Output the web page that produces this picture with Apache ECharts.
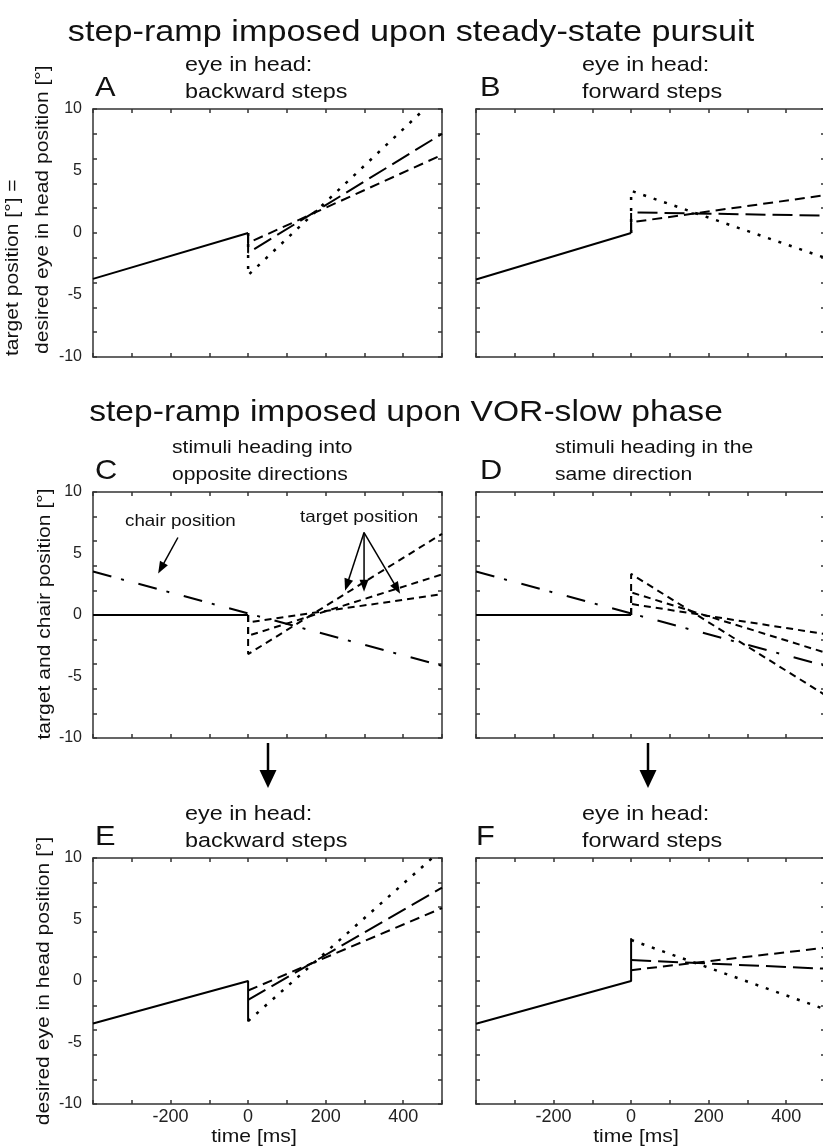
<!DOCTYPE html>
<html><head><meta charset="utf-8">
<script src="https://cdn.jsdelivr.net/npm/echarts@6/dist/echarts.min.js"></script>
<style>html,body{margin:0;padding:0;background:#fff}#c{width:823px;height:1148px}</style>
</head><body><div id="c"></div>
<script>
// ---------- tick labels ----------
const xTickLabels = [-200, 0, 200, 400];
const yTickLabels = [-10, -5, 0, 5, 10];

// ---------- Panel A: steady-state pursuit, eye in head backward steps ----------
const A_pursuit = [[-400, -3.7], [0, 0]];
const A_small   = [[0, 0], [0, -0.8], [500, 6.3]];
const A_medium  = [[0, 0], [0, -1.6], [500, 8.0]];
const A_large   = [[0, 0], [0, -3.4], [455, 10]];

// ---------- Panel B: steady-state pursuit, eye in head forward steps ----------
const B_pursuit = [[-400, -3.75], [0, 0]];
const B_small   = [[0, 0], [0, 0.86], [500, 3.05]];
const B_medium  = [[0, 0], [0, 1.66], [500, 1.4]];
const B_large   = [[0, 0], [0, 3.4], [500, -2.0]];

// ---------- Panel C: VOR, stimuli heading into opposite directions ----------
const C_target0 = [[-400, 0], [0, 0]];
const C_chair   = [[-400, 3.53], [500, -4.13]];
const C_t1      = [[0, 0], [0, -0.6], [500, 1.7]];
const C_t2      = [[0, 0], [0, -1.69], [500, 3.3]];
const C_t3      = [[0, 0], [0, -3.18], [500, 6.6]];

// ---------- Panel D: VOR, stimuli heading in the same direction ----------
const D_target0 = [[-400, 0], [0, 0]];
const D_chair   = [[-400, 3.53], [500, -4.13]];
const D_t1      = [[0, 0], [0, 0.9], [500, -1.55]];
const D_t2      = [[0, 0], [0, 1.84], [500, -3.05]];
const D_t3      = [[0, 0], [0, 3.34], [500, -6.5]];

// ---------- Panel E: desired eye in head, backward steps ----------
const E_pursuit = [[-400, -3.45], [0, 0], [0, -3.3]];
const E_small   = [[0, -0.77], [500, 5.93]];
const E_medium  = [[0, -1.53], [500, 7.59]];
const E_large   = [[0, -3.26], [475, 10]];

// ---------- Panel F: desired eye in head, forward steps ----------
const F_pursuit = [[-400, -3.47], [0, 0], [0, 3.47]];
const F_small   = [[0, 0.88], [500, 2.7]];
const F_medium  = [[0, 1.7], [500, 1.0]];
const F_large   = [[0, 3.33], [500, -2.3]];

// ---------- annotation anchors in panel C (data coordinates) ----------
const chairArrow = [[-181, 6.3], [-232, 3.37]];
const targetArrowFrom = [299, 6.7];
const targetArrowTips = [[250, 1.98], [299, 1.9], [392, 1.73]];

// ---------- texts ----------
const mainTitles = ['step-ramp imposed upon steady-state pursuit', 'step-ramp imposed upon VOR-slow phase'];
const panelLetters = ['A', 'B', 'C', 'D', 'E', 'F'];
const panelSubtitles = [
  ['eye in head:', 'backward steps'],
  ['eye in head:', 'forward steps'],
  ['stimuli heading into', 'opposite directions'],
  ['stimuli heading in the', 'same direction'],
  ['eye in head:', 'backward steps'],
  ['eye in head:', 'forward steps']
];

// ---------- styling ----------
const FONT = '"Liberation Sans", Arial, Helvetica, sans-serif';
const AXC = '#333';
const SX = 1.14;
const SOLID = 'solid', SHORT = [10, 6], LONG = [20, 7], DOT = [3, 8], TDASH = [7, 5], DASHDOT = [19, 10, 3, 15];

const GW = 349;
const GRIDS = [
  {left: 93, top: 109, h: 248}, {left: 476, top: 109, h: 248},
  {left: 93, top: 492, h: 246}, {left: 476, top: 492, h: 246},
  {left: 93, top: 858, h: 246}, {left: 476, top: 858, h: 246}
];

const grid = [], xAxis = [], yAxis = [];
GRIDS.forEach((G, g) => {
  grid.push({left: G.left, top: G.top, width: GW, height: G.h, containLabel: false, outerBoundsMode: 'none'});
  const lineS = {color: AXC, width: 1.5};
  const tick = {inside: true, length: 4, lineStyle: lineS};
  const baseX = {gridIndex: g, type: 'value', min: -400, max: 500, interval: 100,
    axisLine: {show: true, onZero: false, lineStyle: lineS}, axisTick: tick, splitLine: {show: false}};
  xAxis.push(Object.assign({}, baseX, {position: 'bottom',
    axisLabel: {show: g >= 4, customValues: xTickLabels, margin: 4, fontSize: 18, color: '#222', fontFamily: FONT}}));
  xAxis.push(Object.assign({}, baseX, {position: 'top', axisLabel: {show: false}}));
  const baseY = {gridIndex: g, type: 'value', min: -10, max: 10, interval: 2,
    axisLine: {show: true, onZero: false, lineStyle: lineS}, axisTick: tick, splitLine: {show: false}};
  yAxis.push(Object.assign({}, baseY, {position: 'left',
    axisLabel: {show: g % 2 === 0, customValues: yTickLabels, margin: 11, fontSize: 16, color: '#222', fontFamily: FONT}}));
  yAxis.push(Object.assign({}, baseY, {position: 'right', axisLabel: {show: false}}));
});

function ser(g, data, dash, width) {
  return {type: 'line', xAxisIndex: 2 * g, yAxisIndex: 2 * g, data: data, showSymbol: false, symbol: 'none',
    silent: true, animation: false, clip: true,
    lineStyle: {color: '#000', width: width || 2, type: dash}};
}

const series = [
  ser(0, A_pursuit, SOLID), ser(0, A_small, SHORT), ser(0, A_medium, LONG), ser(0, A_large, DOT, 2.5),
  ser(1, B_pursuit, SOLID), ser(1, B_small, SHORT), ser(1, B_medium, LONG), ser(1, B_large, DOT, 2.5),
  ser(2, C_target0, SOLID, 1.8), ser(2, C_chair, DASHDOT), ser(2, C_t1, TDASH), ser(2, C_t2, TDASH), ser(2, C_t3, TDASH),
  ser(3, D_target0, SOLID, 1.8), ser(3, D_chair, DASHDOT), ser(3, D_t1, TDASH), ser(3, D_t2, TDASH), ser(3, D_t3, TDASH),
  ser(4, E_pursuit, SOLID), ser(4, E_small, SHORT), ser(4, E_medium, LONG), ser(4, E_large, DOT, 2.5),
  ser(5, F_pursuit, SOLID), ser(5, F_small, SHORT), ser(5, F_medium, LONG), ser(5, F_large, DOT, 2.5)
];

function txt(text, x, y, size, align, opts) {
  opts = opts || {};
  return {type: 'text', x: x, y: y, rotation: opts.rot || 0, scaleX: opts.sx || SX, silent: true,
    style: {text: text, fontSize: size, fontFamily: FONT, fill: '#111', align: align, verticalAlign: 'middle'}};
}
function arrowEls(x0, y0, x1, y1, headLen, headW, lw) {
  const a = Math.atan2(y1 - y0, x1 - x0);
  const bx = x1 - headLen * Math.cos(a), by = y1 - headLen * Math.sin(a);
  const px = -Math.sin(a), py = Math.cos(a);
  return [
    {type: 'line', silent: true, shape: {x1: x0, y1: y0, x2: bx + headLen * 0.2 * Math.cos(a), y2: by + headLen * 0.2 * Math.sin(a)}, style: {stroke: '#000', lineWidth: lw}},
    {type: 'polygon', silent: true, shape: {points: [[x1, y1], [bx + px * headW / 2, by + py * headW / 2], [bx - px * headW / 2, by - py * headW / 2]]}, style: {fill: '#000'}}
  ];
}

const graphic = [];
graphic.push(txt(mainTitles[0], 411, 33, 30, 'center'));
graphic.push(txt(mainTitles[1], 406, 413, 29.5, 'center'));
// panel letters and subtitles
const letterX = [95, 480, 95, 480, 95, 476];
const subX = [185, 582, 172, 555, 185, 582];
GRIDS.forEach((G, g) => {
  graphic.push(txt(panelLetters[g], letterX[g], G.top - 21, 28, 'left', {sx: 1.1}));
  const fs = (g === 2 || g === 3) ? 18.5 : 20.5;
  graphic.push(txt(panelSubtitles[g][0], subX[g], G.top - 44, fs, 'left'));
  graphic.push(txt(panelSubtitles[g][1], subX[g], G.top - 17, fs, 'left'));
});
// y-axis names
graphic.push(txt('target position [°] =', 13, 356, 18.5, 'left', {rot: Math.PI / 2}));
graphic.push(txt('desired eye in head position [°]', 43, 354, 18.5, 'left', {rot: Math.PI / 2}));
graphic.push(txt('target and chair position [°]', 45, 614, 18.5, 'center', {rot: Math.PI / 2}));
graphic.push(txt('desired eye in head position [°]', 44, 981, 18.5, 'center', {rot: Math.PI / 2}));
// x-axis names
graphic.push(txt('time [ms]', 254, 1137, 18.5, 'center'));
graphic.push(txt('time [ms]', 636, 1137, 18.5, 'center'));
// arrows between rows
graphic.push(...arrowEls(268, 743, 268, 788, 18, 17, 2.5));
graphic.push(...arrowEls(648, 743, 648, 788, 18, 17, 2.5));
// annotation texts in C
graphic.push(txt('chair position', 125, 521, 16.5, 'left'));
graphic.push(txt('target position', 300, 517, 16.5, 'left'));

const chart = echarts.init(document.getElementById('c'), null, {renderer: 'canvas'});
chart.setOption({animation: false, backgroundColor: '#fff', grid, xAxis, yAxis, series, graphic});

// annotation arrows expressed in panel-C data coordinates
const finder = {xAxisIndex: 4, yAxisIndex: 4};
const toPx = p => chart.convertToPixel(finder, p);
const extra = [];
{
  const a = toPx(chairArrow[0]), b = toPx(chairArrow[1]);
  extra.push(...arrowEls(a[0], a[1], b[0], b[1], 12, 9, 1.5));
  const o = toPx(targetArrowFrom);
  targetArrowTips.forEach(t => { const p = toPx(t); extra.push(...arrowEls(o[0], o[1], p[0], p[1], 12, 9, 1.5)); });
}
chart.setOption({graphic: graphic.concat(extra)});
</script></body></html>
